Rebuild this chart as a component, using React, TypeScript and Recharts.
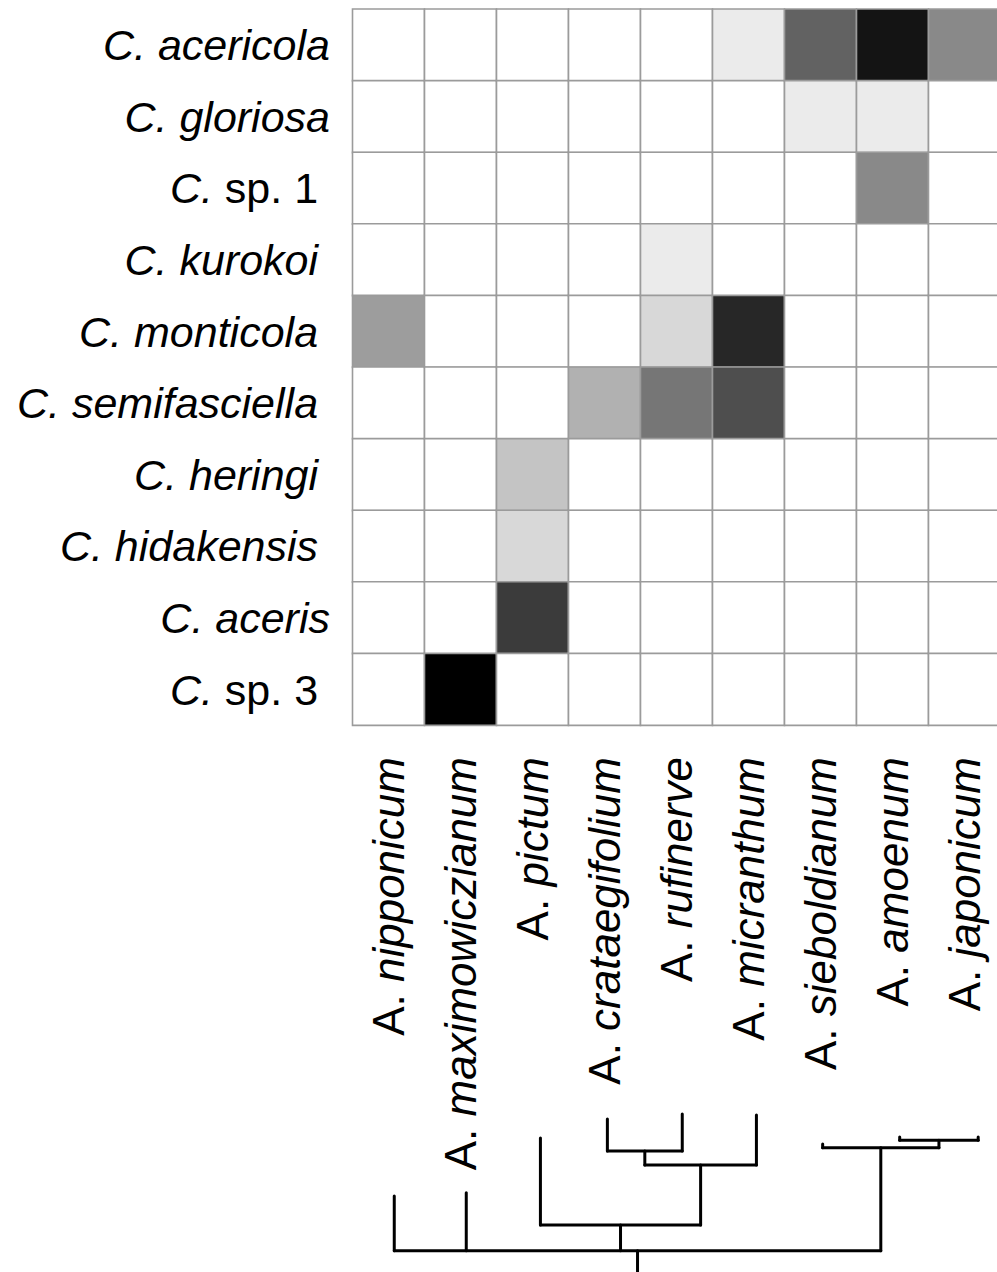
import React from 'react';
import { BarChart, Bar, XAxis, YAxis, Cell, Customized } from 'recharts';

// Host plants (columns), in dendrogram order
const hostSpecies = [
  'A. nipponicum',
  'A. maximowiczianum',
  'A. pictum',
  'A. crataegifolium',
  'A. rufinerve',
  'A. micranthum',
  'A. sieboldianum',
  'A. amoenum',
  'A. japonicum',
];

// Moth species (rows), top to bottom
const mothSpecies = [
  'C. acericola',
  'C. gloriosa',
  'C. sp. 1\u00A0',
  'C. kurokoi\u00A0',
  'C. monticola\u00A0',
  'C. semifasciella\u00A0',
  'C. heringi\u00A0',
  'C. hidakensis\u00A0',
  'C. aceris',
  'C. sp. 3\u00A0',
];

// Number of records per host plant, one list per moth species
const acericola = [0, 0, 0, 0, 0, 1, 8, 12, 6];
const gloriosa = [0, 0, 0, 0, 0, 0, 1, 1, 0];
const sp1 = [0, 0, 0, 0, 0, 0, 0, 6, 0];
const kurokoi = [0, 0, 0, 0, 1, 0, 0, 0, 0];
const monticola = [5, 0, 0, 0, 2, 11, 0, 0, 0];
const semifasciella = [0, 0, 0, 4, 7, 9, 0, 0, 0];
const heringi = [0, 0, 3, 0, 0, 0, 0, 0, 0];
const hidakensis = [0, 0, 2, 0, 0, 0, 0, 0, 0];
const aceris = [0, 0, 10, 0, 0, 0, 0, 0, 0];
const sp3 = [0, 13, 0, 0, 0, 0, 0, 0, 0];

const rowCounts = [acericola, gloriosa, sp1, kurokoi, monticola, semifasciella, heringi, hidakensis, aceris, sp3];
const maxCount = 13;

// Host dendrogram: leaf positions (in column units) and branch heights above the root line
const hostLeafPos = [0.58, 1.58, 2.61, 3.54, 4.58, 5.61, 6.53, 7.6, 8.69];
const hostLeafHeight = [54.7, 58, 112.7, 131.7, 136.7, 135.7, 106.7, 113.7, 113.7];
type TreeNode = { leaf: number } | { h: number; kids: TreeNode[] };
const hostTree: TreeNode = {
  h: 0,
  kids: [
    { leaf: 0 },
    { leaf: 1 },
    {
      h: 25.7,
      kids: [
        { leaf: 2 },
        { h: 85.7, kids: [{ h: 99.7, kids: [{ leaf: 3 }, { leaf: 4 }] }, { leaf: 5 }] },
      ],
    },
    { h: 103, kids: [{ leaf: 6 }, { h: 110.4, kids: [{ leaf: 7 }, { leaf: 8 }] }] },
  ],
};

// Layout: the grid runs past the right edge of the svg, which clips it
const CHART_W = 997;
const CHART_H = 1272;
const PLOT_LEFT = 352.5;
const PLOT_TOP = 9;
const PLOT_W = 648;
const PLOT_H = 716;
const CELL_W = PLOT_W / hostSpecies.length;
const FONT = "'Liberation Sans', Arial, Helvetica, sans-serif";
const ROW_FS = 43;
const COL_FS = 44;
const ROW_LABEL_END = 330;
const COL_LABEL_TOP = 757;
const TREE_BASE = 1250.7;

const shade = (n: number) => {
  const g = Math.round(255 * (1 - n / maxCount));
  return `rgb(${g},${g},${g})`;
};

const table = mothSpecies.map((moth, i) => {
  const row: Record<string, number | string> = { moth };
  hostSpecies.forEach((_, j) => {
    row[`u${j}`] = 1;
    row[`n${j}`] = rowCounts[i][j];
  });
  return row;
});

const tickPositions = hostSpecies.map((_, j) => j + 0.5);

function MothTick(props: any) {
  const { y, payload } = props;
  const label: string = payload.value;
  const genus = label.slice(0, label.indexOf(' '));
  const rest = label.slice(label.indexOf(' '));
  const upright = rest.trim().startsWith('sp.');
  return (
    <text
      x={ROW_LABEL_END}
      y={y + 0.356 * ROW_FS}
      textAnchor="end"
      fontFamily={FONT}
      fontSize={ROW_FS}
      fill="#000"
      xmlSpace="preserve"
    >
      <tspan fontStyle="italic">{genus}</tspan>
      <tspan fontStyle={upright ? 'normal' : 'italic'}>{rest}</tspan>
    </text>
  );
}

function HostTick(props: any) {
  const { x, payload } = props;
  const name = hostSpecies[Math.floor(payload.value)];
  const genus = name.slice(0, name.indexOf(' ') + 1);
  const epithet = name.slice(name.indexOf(' ') + 1);
  const bx = x + 0.345 * COL_FS;
  return (
    <text
      x={bx}
      y={COL_LABEL_TOP}
      transform={`rotate(-90 ${bx} ${COL_LABEL_TOP})`}
      textAnchor="end"
      fontFamily={FONT}
      fontSize={COL_FS}
      fill="#000"
      xmlSpace="preserve"
    >
      <tspan>{genus}</tspan>
      <tspan fontStyle="italic">{epithet}</tspan>
    </text>
  );
}

function Dendrogram() {
  const segs: React.ReactNode[] = [];
  const px = (u: number) => PLOT_LEFT + u * CELL_W;
  const py = (h: number) => TREE_BASE - h;
  const layout = (node: TreeNode): { x: number; h: number } => {
    if ('leaf' in node) return { x: px(hostLeafPos[node.leaf]), h: hostLeafHeight[node.leaf] };
    const kids = node.kids.map(layout);
    const x0 = kids[0].x;
    const x1 = kids[kids.length - 1].x;
    segs.push(<line key={`h${segs.length}`} x1={x0} x2={x1} y1={py(node.h)} y2={py(node.h)} />);
    kids.forEach((k) => {
      segs.push(<line key={`v${segs.length}`} x1={k.x} x2={k.x} y1={py(node.h)} y2={py(k.h)} />);
    });
    return { x: (x0 + x1) / 2, h: node.h };
  };
  const root = layout(hostTree);
  segs.push(<line key="stem" x1={root.x} x2={root.x} y1={py(0)} y2={py(-40)} />);
  return (
    <g stroke="#000" strokeWidth={3} strokeLinecap="round" fill="none">
      {segs}
    </g>
  );
}

export default function App() {
  return (
    <div
      style={{
        position: 'absolute',
        left: 0,
        top: 0,
        width: CHART_W,
        height: CHART_H,
        overflow: 'hidden',
        background: '#fff',
      }}
    >
      <BarChart
        width={CHART_W}
        height={CHART_H}
        data={table}
        layout="vertical"
        barCategoryGap={0}
        barGap={0}
        margin={{ top: PLOT_TOP, left: 0, right: CHART_W - PLOT_LEFT - PLOT_W, bottom: 0 }}
      >
        <XAxis
          type="number"
          domain={[0, hostSpecies.length]}
          ticks={tickPositions}
          interval={0}
          height={CHART_H - PLOT_TOP - PLOT_H}
          axisLine={false}
          tickLine={false}
          tick={<HostTick />}
        />
        <YAxis
          type="category"
          dataKey="moth"
          width={PLOT_LEFT}
          interval={0}
          axisLine={false}
          tickLine={false}
          tick={<MothTick />}
        />
        {hostSpecies.map((host, j) => (
          <Bar
            key={host}
            dataKey={`u${j}`}
            stackId="cells"
            isAnimationActive={false}
            stroke="#9b9b9b"
            strokeWidth={1.6}
          >
            {table.map((row, i) => (
              <Cell key={`${i}-${j}`} fill={shade(rowCounts[i][j])} />
            ))}
          </Bar>
        ))}
        <Customized component={Dendrogram} />
      </BarChart>
    </div>
  );
}
